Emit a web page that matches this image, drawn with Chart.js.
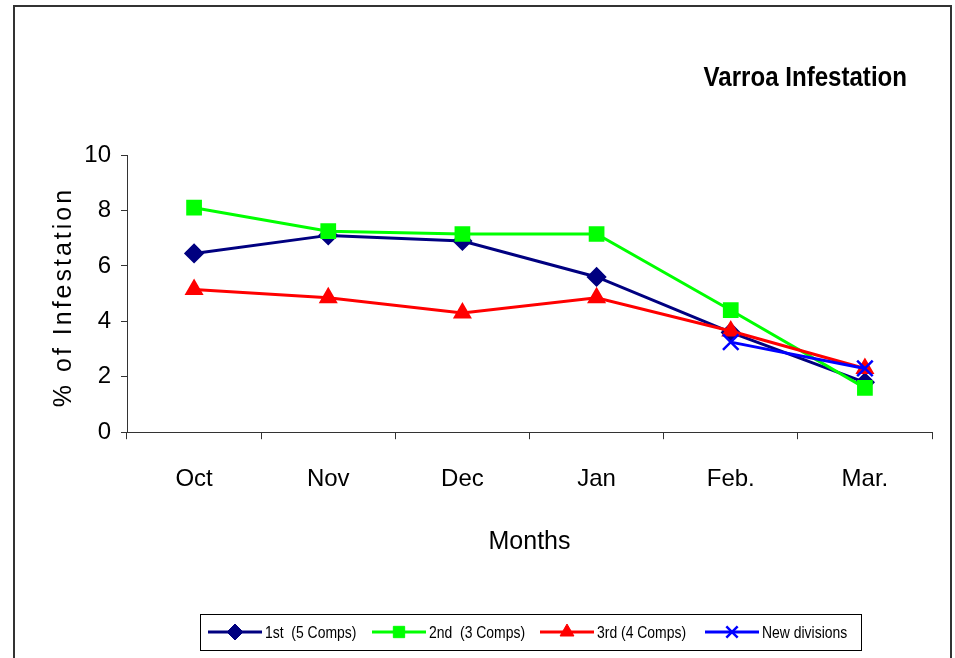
<!DOCTYPE html>
<html>
<head>
<meta charset="utf-8">
<script src="https://cdn.jsdelivr.net/npm/chart.js@4/dist/chart.umd.min.js"></script>
<style>
  html, body { margin: 0; padding: 0; background: #fff; }
  #wrap { width: 955px; height: 658px; }
</style>
</head>
<body>
<div id="wrap"><canvas id="chart" width="955" height="658"></canvas></div>
<script>
const months = ['Oct', 'Nov', 'Dec', 'Jan', 'Feb.', 'Mar.'];
const first = [6.45, 7.1, 6.9, 5.6, 3.6, 1.8];
const second = [8.1, 7.25, 7.15, 7.15, 4.4, 1.6];
const third = [5.15, 4.85, 4.3, 4.85, 3.65, 2.3];
const newDiv = [null, null, null, null, 3.25, 2.3];
const yTicks = [0, 2, 4, 6, 8, 10];

const FONT = '"Liberation Sans", Arial, sans-serif';

// narrow-looking text: squeeze horizontally around the anchor point
function narrowText(ctx, text, x, y, sx) {
  ctx.save();
  ctx.translate(x, y);
  ctx.scale(sx, 1);
  ctx.fillText(text, 0, 0);
  ctx.restore();
}

// outer frame, title, rotated y title and the boxed legend
const decor = {
  id: 'decor',
  afterDraw(chart) {
    const ctx = chart.ctx;
    ctx.save();
    ctx.strokeStyle = '#333';
    ctx.lineWidth = 2;
    ctx.strokeRect(14, 6, 937, 670);

    ctx.fillStyle = '#000';
    ctx.font = 'bold 28px ' + FONT;
    ctx.textAlign = 'right';
    ctx.textBaseline = 'middle';
    narrowText(ctx, 'Varroa Infestation', 907, 78, 0.86);

    // y title with spaced letters
    ctx.save();
    ctx.translate(64, 297);
    ctx.rotate(-Math.PI / 2);
    ctx.font = '25px ' + FONT;
    ctx.letterSpacing = '3px';
    ctx.textAlign = 'center';
    ctx.fillText('% of Infestation', 0, 0);
    ctx.restore();

    // legend
    const boxL = 200, boxT = 614, boxR = 861, boxB = 650;
    const starts = [208, 372, 540, 705];
    ctx.fillStyle = '#fff';
    ctx.fillRect(boxL, boxT, boxR - boxL, boxB - boxT);
    ctx.strokeStyle = '#000';
    ctx.lineWidth = 1;
    ctx.strokeRect(boxL + 0.5, boxT + 0.5, boxR - boxL, boxB - boxT);
    const cy = (boxT + boxB) / 2;
    ctx.font = '17px ' + FONT;
    ctx.textAlign = 'left';
    ctx.textBaseline = 'middle';
    chart.data.datasets.forEach((ds, i) => {
      const x = starts[i];
      ctx.strokeStyle = ds.borderColor;
      ctx.fillStyle = ds.backgroundColor;
      ctx.lineWidth = 3;
      ctx.beginPath();
      ctx.moveTo(x, cy);
      ctx.lineTo(x + 54, cy);
      ctx.stroke();
      ctx.lineWidth = ds.pointBorderWidth || 1;
      Chart.helpers.drawPoint(ctx, { pointStyle: ds.pointStyle, radius: 8, borderWidth: ctx.lineWidth }, x + 27, cy);
      ctx.fillStyle = '#000';
      narrowText(ctx, ds.label, x + 57, cy + 1, 0.82);
    });
    ctx.restore();
  }
};

new Chart(document.getElementById('chart'), {
  type: 'line',
  data: {
    labels: months,
    datasets: [
      { label: '1st  (5 Comps)', data: first, borderColor: '#000080', backgroundColor: '#000080',
        pointStyle: 'rectRot', pointRadius: 8, borderWidth: 3, order: 4 },
      { label: '2nd  (3 Comps)', data: second, borderColor: '#00ff00', backgroundColor: '#00ff00',
        pointStyle: 'rect', pointRadius: 9, borderWidth: 3, order: 3 },
      { label: '3rd (4 Comps)', data: third, borderColor: '#ff0000', backgroundColor: '#ff0000',
        pointStyle: 'triangle', pointRadius: 8, borderWidth: 3, order: 2 },
      { label: 'New divisions', data: newDiv, borderColor: '#0000ff', backgroundColor: '#0000ff',
        pointStyle: 'crossRot', pointRadius: 11, pointBorderWidth: 2.5, borderWidth: 3, order: 1 }
    ]
  },
  options: {
    responsive: false,
    animation: false,
    layout: { padding: { left: 10, right: 23, top: 155, bottom: 99 } },
    plugins: { legend: { display: false }, title: { display: false }, tooltip: { enabled: false } },
    scales: {
      x: {
        offset: true,
        grid: { offset: true, drawOnChartArea: false, drawTicks: true, tickLength: 7, color: '#333', lineWidth: 1 },
        border: { display: true, color: '#333', width: 1 },
        ticks: { color: '#000', font: { family: FONT, size: 24 }, padding: 26 },
        title: { display: true, text: 'Months', color: '#000', font: { family: FONT, size: 25 }, padding: { top: 7, bottom: 2 } }
      },
      y: {
        min: 0, max: 10,
        afterBuildTicks: s => { s.ticks = yTicks.map(v => ({ value: v })); },
        afterFit: s => { s.width = 117; },
        grid: { drawOnChartArea: false, drawTicks: true, tickLength: 6, color: '#333', lineWidth: 1 },
        border: { display: true, color: '#333', width: 1 },
        ticks: { color: '#000', font: { family: FONT, size: 24 }, padding: 10 }
      }
    }
  },
  plugins: [decor]
});
</script>
</body>
</html>
